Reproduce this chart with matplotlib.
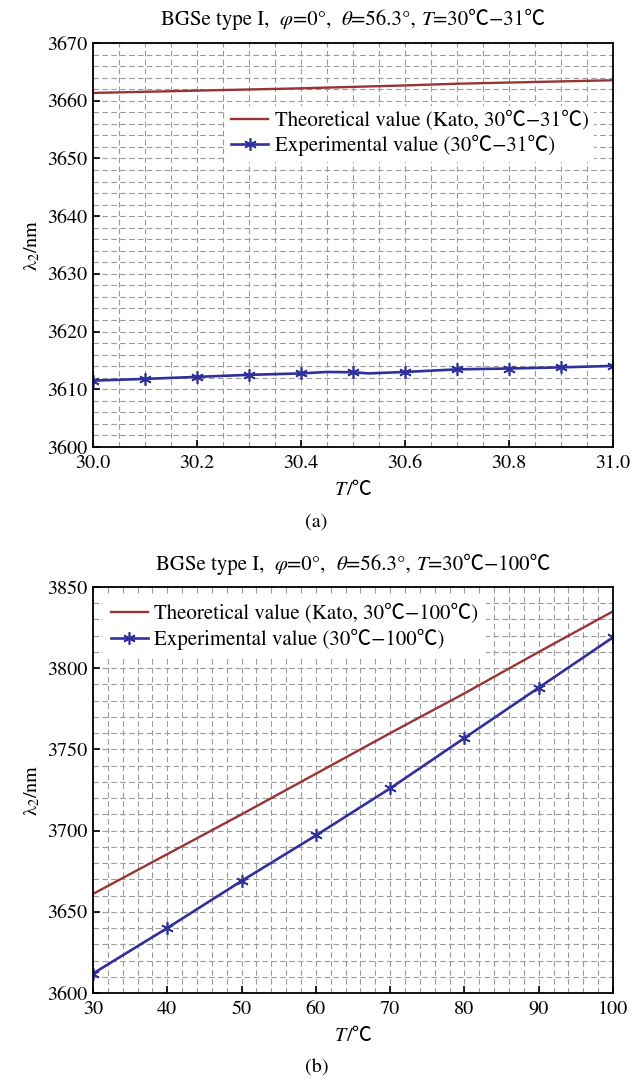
import matplotlib
matplotlib.use("Agg")
import matplotlib.pyplot as plt
from matplotlib.ticker import MultipleLocator, FormatStrFormatter
from matplotlib.offsetbox import TextArea, HPacker, AnchoredOffsetbox

# (a) 30-31 C
theo_a_T = [30.0, 30.1, 30.2, 30.3, 30.4, 30.5, 30.6, 30.7, 30.8, 30.9, 31.0]
theo_a_lam = [3661.35, 3661.55, 3661.75, 3661.95, 3662.15, 3662.4, 3662.65,
              3662.95, 3663.15, 3663.35, 3663.55]
exp_a_T = [30.0, 30.1, 30.2, 30.3, 30.4, 30.45, 30.5, 30.53, 30.6, 30.7, 30.8, 30.9, 31.0]
exp_a_lam = [3611.5, 3611.8, 3612.15, 3612.5, 3612.75, 3613.0, 3612.95, 3612.75,
             3613.0, 3613.45, 3613.6, 3613.8, 3614.05]
exp_a_marks = [0, 1, 2, 3, 4, 6, 8, 9, 10, 11, 12]

# (b) 30-100 C
theo_b_T = [30, 40, 50, 60, 70, 80, 90, 100]
theo_b_lam = [3661, 3685.5, 3710, 3735, 3760, 3784.5, 3810, 3835]
exp_b_T = [30, 40, 50, 60, 70, 80, 90, 100]
exp_b_lam = [3612, 3640, 3669, 3697, 3726, 3757, 3788, 3819]

FONTS = ["STIXGeneral", "Noto Sans CJK SC", "DejaVu Sans"]
plt.rcParams["font.family"] = FONTS
plt.rcParams["mathtext.fontset"] = "stix"

red = "#983434"
blue = "#30309c"
grid_kw = dict(color="#9a9a9a", linestyle=(0, (5, 3)), linewidth=0.8)


def style_axes(ax):
    ax.grid(True, which="both", **grid_kw)
    ax.set_axisbelow(True)
    ax.tick_params(which="major", direction="in", length=5, width=1.2,
                   labelsize=14.5, top=False, right=False, pad=4)
    ax.tick_params(axis="x", which="major", pad=6)
    ax.tick_params(which="minor", length=0)
    for s in ax.spines.values():
        s.set_linewidth(1.3)


def rich_text(ax, pieces, y, size):
    # pieces: list of (text, italic) -> packed side by side, centred on the axes
    boxes = [TextArea(t, textprops=dict(fontsize=size, family=FONTS,
                                        fontstyle="italic" if it else "normal"))
             for t, it in pieces]
    pack = HPacker(children=boxes, align="baseline", pad=0, sep=0)
    anc = AnchoredOffsetbox(loc="center", child=pack, pad=0, frameon=False,
                            bbox_to_anchor=(0.5, y), bbox_transform=ax.transAxes,
                            borderpad=0)
    ax.add_artist(anc)


def title_pieces(t_range):
    return [("BGSe type I,  ", False), ("φ", True), ("=0°,  ", False),
            ("θ", True), ("=56.3°, ", False), ("T", True), ("=" + t_range, False)]


leg_kw = dict(fontsize=15, frameon=True, fancybox=False, framealpha=1,
              edgecolor="none", handlelength=1.8, handletextpad=0.3,
              labelspacing=0.2, borderaxespad=0)

fig = plt.figure(figsize=(6.33, 10.81), dpi=100)

ax1 = fig.add_axes([0.1469, 0.5865, 0.8215, 0.3737])
ax1.plot(theo_a_T, theo_a_lam, color=red, lw=1.7,
         label="Theoretical value (Kato, 30℃−31℃)")
ax1.plot(exp_a_T, exp_a_lam, color=blue, lw=1.9, marker=(6, 2, 0), ms=9,
         mew=1.2, markevery=exp_a_marks, label="Experimental value (30℃−31℃)")
ax1.set_xlim(30.0, 31.0)
ax1.set_ylim(3600, 3670)
ax1.xaxis.set_major_locator(MultipleLocator(0.2))
ax1.xaxis.set_minor_locator(MultipleLocator(0.05))
ax1.xaxis.set_major_formatter(FormatStrFormatter("%.1f"))
ax1.yaxis.set_major_locator(MultipleLocator(10))
ax1.yaxis.set_minor_locator(MultipleLocator(2))
style_axes(ax1)
rich_text(ax1, title_pieces("30℃−31℃"), 1.057, 15)
rich_text(ax1, [("T", True), ("/℃", False)], -0.105, 14.5)
ax1.set_ylabel(r"λ$_2$/nm", fontsize=14.5, labelpad=4)
ax1.legend(loc="upper left", bbox_to_anchor=(0.255, 0.845), borderpad=0.25, **leg_kw)
fig.text(0.5, 1 - 522 / 1081, "(a)", ha="center", va="center", fontsize=14.5)

ax2 = fig.add_axes([0.1469, 0.0814, 0.8215, 0.3756])
ax2.plot(theo_b_T, theo_b_lam, color=red, lw=1.7,
         label="Theoretical value (Kato, 30℃−100℃)")
ax2.plot(exp_b_T, exp_b_lam, color=blue, lw=1.9, marker=(6, 2, 0), ms=9,
         mew=1.2, label="Experimental value (30℃−100℃)")
ax2.set_xlim(30, 100)
ax2.set_ylim(3600, 3850)
ax2.xaxis.set_major_locator(MultipleLocator(10))
ax2.xaxis.set_minor_locator(MultipleLocator(2))
ax2.yaxis.set_major_locator(MultipleLocator(50))
ax2.yaxis.set_minor_locator(MultipleLocator(10))
style_axes(ax2)
rich_text(ax2, title_pieces("30℃−100℃"), 1.055, 15)
rich_text(ax2, [("T", True), ("/℃", False)], -0.105, 14.5)
ax2.set_ylabel(r"λ$_2$/nm", fontsize=14.5, labelpad=4)
ax2.legend(loc="upper left", bbox_to_anchor=(0.02, 0.975), borderpad=0.35, **leg_kw)
fig.text(0.5, 1 - 1068 / 1081, "(b)", ha="center", va="center", fontsize=14.5)

fig.savefig("out.png", dpi=100, facecolor="white")
